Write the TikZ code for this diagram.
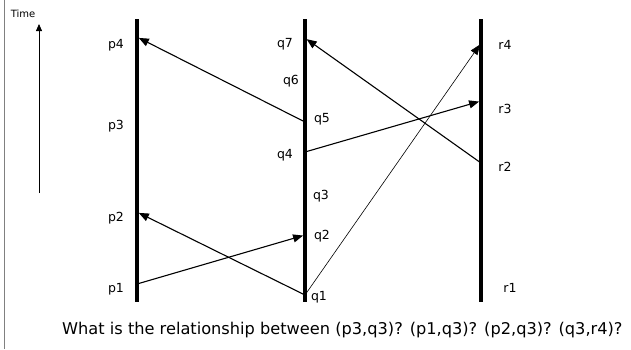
\documentclass[tikz,border=0pt]{standalone}
\usepackage{fontspec}
\setmainfont{DejaVu Sans}
\usepackage{xcolor}
\definecolor{LineBlack}{HTML}{000000}
\definecolor{EdgeGray} {HTML}{808080}
\usetikzlibrary{arrows.meta,positioning}
\tikzset{
  proc/.style={LineBlack,line width=4.2pt},
  msg/.style={-{Triangle[length=10pt,width=8pt]},LineBlack,line width=1.1pt,
    shorten >=2pt,shorten <=2pt},
  thinmsg/.style={msg,line width=0.6pt},
  evlabel/.style={font=\fontsize{12.5}{14}\selectfont,inner sep=0pt}
}

\begin{document}
\begin{tikzpicture}[x=1pt,y=-1pt]
  \useasboundingbox (0,0) rectangle (631,349);
  \fill[white] (0,0) rectangle (631,349);
  % Left edge of the slide
  \draw[EdgeGray,line width=1pt] (4,0) -- (4,349);
  % Time axis
  \node[font=\fontsize{10}{12}\selectfont,inner sep=0pt] (timelbl)
    at (23,14) {Time};
  \coordinate (tbot) at (39,193);
  \coordinate (ttop) at (39,24);
  \draw[-{Triangle[length=7pt,width=6pt]},line width=0.8pt] (tbot) -- (ttop);
  % Process lines
  \draw[proc] (137,19) -- (137,302);
  \draw[proc] (305,19) -- (305,302);
  \draw[proc] (481,19) -- (481,302);
  % Events on p
  \coordinate (p1) at (137,284);
  \coordinate (p2) at (137,212);
  \coordinate (p4) at (137,37);
  % Events on q
  \coordinate (q1) at (305,295);
  \coordinate (q2) at (305,235);
  \coordinate (q4) at (305,152);
  \coordinate (q5) at (305,122);
  \coordinate (q7) at (305,38);
  % Events on r
  \coordinate (r2) at (481,163);
  \coordinate (r3) at (481,101);
  \coordinate (r4) at (481,43);
  % Labels
  \node[evlabel] (lp4) at (116,45) {p4};
  \node[evlabel] (lp3) at (116,126) {p3};
  \node[evlabel] (lp2) at (116,218) {p2};
  \node[evlabel] (lp1) at (116,289) {p1};
  \node[evlabel] (lq7) at (285,44) {q7};
  \node[evlabel] (lq6) at (291,81) {q6};
  \node[evlabel] (lq5) at (322,119) {q5};
  \node[evlabel] (lq4) at (285,155) {q4};
  \node[evlabel] (lq3) at (321,196) {q3};
  \node[evlabel] (lq2) at (322,236) {q2};
  \node[evlabel] (lq1) at (319,297) {q1};
  \node[evlabel] (lr4) at (505,45) {r4};
  \node[evlabel] (lr3) at (505,109) {r3};
  \node[evlabel] (lr2) at (505,167) {r2};
  \node[evlabel] (lr1) at (510,288) {r1};
  % Messages
  \draw[msg] (q5) -- (p4);
  \draw[msg] (r2) -- (q7);
  \draw[msg] (q4) -- (r3);
  \draw[thinmsg] (q1) -- (r4);
  \draw[msg] (q1) -- (p2);
  \draw[msg] (p1) -- (q2);
  % Question
  \node[font=\fontsize{16.2}{19}\selectfont,anchor=west,inner sep=0pt] (question)
    at (62,330) {What is the relationship between (p3,q3)? (p1,q3)? (p2,q3)? (q3,r4)?};
\end{tikzpicture}
\end{document}
